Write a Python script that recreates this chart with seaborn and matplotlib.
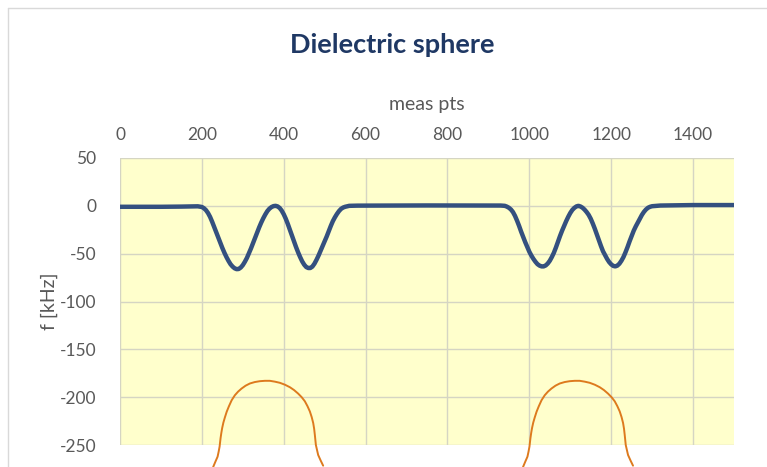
import numpy as np
import pandas as pd
import matplotlib
matplotlib.use("Agg")
import matplotlib.pyplot as plt
import seaborn as sns

# ---- data ----
meas_x = [0, 50, 100, 150, 190, 195, 200, 205, 210, 215, 220, 225, 230, 235, 240,
          245, 250, 255, 260, 265, 270, 275, 280, 285, 290, 295, 300, 305, 310,
          315, 320, 325, 330, 335, 340, 345, 350, 355, 360, 365, 370, 375, 380,
          385, 390, 395, 400, 405, 410, 415, 420, 425, 430, 435, 440, 445, 450,
          455, 460, 465, 470, 475, 480, 485, 490, 495, 500, 505, 510, 515, 520,
          525, 530, 535, 540, 545, 550, 555, 560, 580, 650, 750, 850, 930,
          940, 945, 950, 955, 960, 965, 970, 975, 980, 985, 990, 995, 1000, 1005,
          1010, 1015, 1020, 1025, 1030, 1035, 1040, 1045, 1050, 1055, 1060, 1065,
          1070, 1075, 1080, 1085, 1090, 1095, 1100, 1105, 1110, 1115, 1120, 1125,
          1130, 1135, 1140, 1145, 1150, 1155, 1160, 1165, 1170, 1175, 1180, 1185,
          1190, 1195, 1200, 1205, 1210, 1215, 1220, 1225, 1230, 1235, 1240, 1245,
          1250, 1255, 1260, 1265, 1270, 1275, 1280, 1285, 1290, 1295, 1300, 1310,
          1320, 1400, 1500]
freq_khz = [-1, -1, -1, -0.8, -0.5, -0.8, -1.2, -2.5, -4.5, -7.5, -11.5, -16.5, -22, -27.5, -33,
            -38.5, -44, -49, -53.5, -57.5, -61, -63.5, -65.3, -66.2, -66, -64.5, -62, -58.5, -54.5,
            -49.5, -44.5, -39, -33.5, -28, -22.5, -17.5, -13, -9, -5.5, -3, -1.3, -0.3, 0,
            -0.6, -2.2, -5, -8.8, -13.5, -19, -25, -31, -37, -43, -48.5, -53.5, -58, -61.5,
            -64, -65, -65, -63.5, -60.5, -56.5, -52, -47, -42, -37, -32, -26.5, -21, -16,
            -12, -8.5, -5.5, -3.2, -1.8, -1, -0.5, 0, 0.2, 0.3, 0.4, 0.4, 0.3,
            0, -0.8, -2, -3.8, -6.5, -10.5, -15.5, -21, -27, -32.5, -38, -43, -48, -52,
            -55.5, -58.5, -61, -62.5, -63.3, -63.3, -62.3, -60.3, -57.4, -53.5, -49, -43.5,
            -37.5, -31.5, -26, -21, -16, -11.5, -7.5, -4.3, -2.1, -0.6, 0, -0.7,
            -2, -4, -6.5, -9.5, -13.5, -18.5, -24, -30, -36, -42, -47.5, -51.5,
            -55.5, -58.8, -61.2, -62.8, -63.3, -62.5, -60.5, -57.4, -53.5, -48.5, -43, -37,
            -31.5, -26, -21.5, -17.5, -13.5, -9.5, -6.3, -3.8, -2, -1, -0.4, 0,
            0.3, 0.8, 0.8]

sphere1_x = [227.6, 233, 238.4, 241, 243.3, 245.7, 247.5, 249.6, 252.6, 256.2,
             260.7, 266, 272.8, 280.6, 288.5, 297, 306.8, 317.3, 329.3, 341.7,
             354, 366.1, 378.5, 390.6, 403, 415, 425.3, 435.3, 443.8, 451.6,
             458, 463.8, 468.3, 472, 474.3, 476, 478.5, 484.1, 490, 496.3]
sphere2_x = [984.6, 990, 995.4, 998, 1000.3, 1002.7, 1004.5, 1006.6, 1009.6,
             1013.2, 1017.7, 1023, 1029.8, 1037.6, 1045.5, 1054, 1063.8, 1074.3,
             1086.3, 1098.7, 1111, 1123.1, 1135.5, 1147.6, 1160, 1172, 1182.3,
             1192.3, 1200.8, 1208.6, 1215, 1220.8, 1225.3, 1229, 1231.3, 1233,
             1235.5, 1241.1, 1247, 1253.3]
sphere_y = [-273, -267.5, -262.2, -257, -251.7, -242.8, -237.5, -232.3, -226.5,
            -221.2, -215.2, -209.6, -203.2, -198, -194.2, -191, -188, -185.7,
            -184.2, -183.3, -182.9, -182.9, -183.8, -185, -187, -189.6, -192.6,
            -196.3, -200, -204.3, -209.4, -214.9, -220.8, -227, -233, -239.4,
            -249.9, -260.4, -266, -271.6]

x_ticks = [0, 200, 400, 600, 800, 1000, 1200, 1400]
y_ticks = [50, 0, -50, -100, -150, -200, -250]

title = "Dielectric sphere"
x_label = "meas pts"
y_label = "f [kHz]"

# ---- figure ----
sns.set_theme(style="white")
plt.rcParams["font.family"] = ["Lato", "DejaVu Sans"]
plt.rcParams["axes.unicode_minus"] = False

fig = plt.figure(figsize=(7.67, 4.67), dpi=100)
ax = fig.add_axes([120 / 767, 1 - 445 / 467, (734 - 120) / 767, (445 - 158) / 467])
ax.set_facecolor("#FFFFCC")

df = pd.DataFrame({"x": meas_x, "f": freq_khz})
sns.lineplot(data=df, x="x", y="f", ax=ax, color="#34507F", linewidth=3.2,
             sort=False, estimator=None, zorder=3)

for sx in (sphere1_x, sphere2_x):
    d = pd.DataFrame({"x": sx, "y": sphere_y})
    sns.lineplot(data=d, x="x", y="y", ax=ax, color="#DD7A1E", linewidth=1.4,
                 sort=False, estimator=None, zorder=4, clip_on=False)

ax.set_xlim(0, 1500)
ax.set_ylim(-250, 50)
ax.set_xticks(x_ticks)
ax.set_yticks(y_ticks)
ax.xaxis.tick_top()
ax.xaxis.set_label_position("top")
ax.tick_params(axis="both", length=0, labelsize=12.5, labelcolor="#595959")
ax.tick_params(axis="x", pad=11)
ax.tick_params(axis="y", pad=17)
ax.grid(True, color="#D5D5C3", linewidth=1.0)
for s in ax.spines.values():
    s.set_visible(False)

ax.set_xlabel(x_label, fontsize=14, color="#595959", labelpad=12)
ax.set_ylabel(y_label, fontsize=14, color="#595959", labelpad=1)

fig.text(392 / 767, 1 - 45 / 467, title, ha="center", va="center",
         fontsize=19.5, fontweight="bold", color="#1F3864")

# chart frame lines (left & top)
fig.add_artist(plt.Line2D([8 / 767, 8 / 767], [0, 1 - 8 / 467],
                          color="#D9D9D9", linewidth=1.0))
fig.add_artist(plt.Line2D([8 / 767, 1], [1 - 8 / 467, 1 - 8 / 467],
                          color="#D9D9D9", linewidth=1.0))

fig.savefig("out.png", dpi=100)
